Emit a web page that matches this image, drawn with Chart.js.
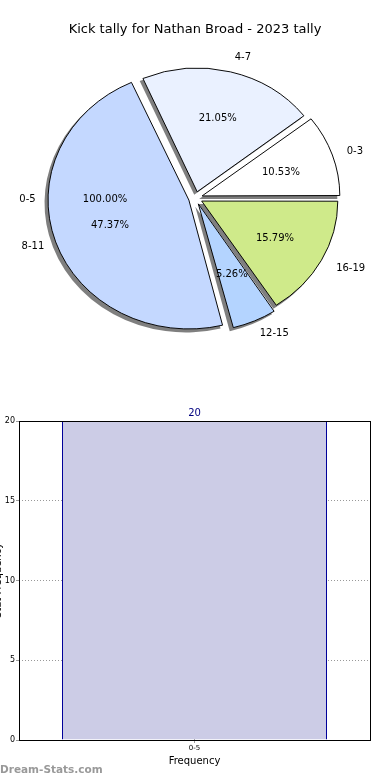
<!DOCTYPE html>
<html>
<head>
<meta charset="utf-8">
<script src="https://cdn.jsdelivr.net/npm/chart.js@4.4.0/dist/chart.umd.min.js"></script>
<style>
  html, body { margin: 0; padding: 0; background: #fff; }
  #wrap-pie { position: absolute; left: 0; top: 0; width: 390px; height: 400px; }
  #wrap-bar { position: absolute; left: 0; top: 400px; width: 390px; height: 380px; }
</style>
</head>
<body>
<div id="wrap-pie"><canvas id="kick-pie"></canvas></div>
<div id="wrap-bar"><canvas id="kick-bar"></canvas></div>
<script>
const titleText = "Kick tally for Nathan Broad - 2023 tally";
const tallyLabels = ["0-3", "4-7", "8-11", "12-15", "16-19"];
const tallyCounts = [2, 4, 9, 1, 3];
const tallyColors = ["#ffffff", "#eaf1ff", "#c4d8ff", "#b4d4ff", "#cfea8a"];
const freqLabels = ["0-5"];
const freqValues = [20];
const yTicks = [0, 5, 10, 15, 20];
const xTitle = "Frequency";
const yTitle = "Stat Frequency";

const fontName = "'DejaVu Sans', sans-serif";
const squash = 0.915; // pie is a bit flatter than round
const explode = 7;
const textRadius = 139;

// chart.js draws clockwise, the original goes counter-clockwise from the right
const pieLabels = [...tallyLabels].reverse();
const pieCounts = [...tallyCounts].reverse();
const pieColors = [...tallyColors].reverse();

const pieExtras = {
  id: "pieExtras",
  beforeDatasetsDraw(chart) {
    const { ctx, chartArea } = chart;
    const cy = (chartArea.top + chartArea.bottom) / 2;
    ctx.save();
    ctx.translate(0, cy);
    ctx.scale(1, squash);
    ctx.translate(0, -cy);

    // drop shadows under every wedge, like matplotlib's shadow=True
    ctx.save();
    ctx.translate(-3, 3 / squash);
    ctx.fillStyle = "rgba(0,0,0,0.5)";
    chart.getDatasetMeta(0).data.forEach((arc) => {
      const mid = (arc.startAngle + arc.endAngle) / 2;
      const span = arc.endAngle - arc.startAngle;
      const grow = explode * (1 - Math.sin(Math.min(Math.PI, span)));
      const ox = arc.x + Math.cos(mid) * explode;
      const oy = arc.y + Math.sin(mid) * explode;
      ctx.beginPath();
      ctx.moveTo(ox, oy);
      ctx.arc(ox, oy, arc.outerRadius + grow + 0.5, arc.startAngle, arc.endAngle);
      ctx.closePath();
      ctx.fill();
    });
    ctx.restore();
  },
  afterDatasetsDraw(chart) {
    chart.ctx.restore();
  },
  afterDraw(chart) {
    const ctx = chart.ctx;
    const meta = chart.getDatasetMeta(0);
    const total = pieCounts.reduce((a, b) => a + b, 0);
    const cx = meta.data[0].x;
    const cy = meta.data[0].y + 1;

    ctx.save();
    ctx.fillStyle = "#000";
    ctx.textBaseline = "middle";

    ctx.font = `13px ${fontName}`;
    ctx.textAlign = "center";
    ctx.fillText(titleText, 195, 30);

    ctx.font = `10px ${fontName}`;
    const place = (angle, k) => [
      cx + (explode + k * textRadius) * Math.cos(angle),
      cy + (explode + k * textRadius) * Math.sin(angle) * squash,
    ];

    meta.data.forEach((arc, i) => {
      const mid = (arc.startAngle + arc.endAngle) / 2;
      const [lx, ly] = place(mid, 1.1);
      ctx.textAlign = Math.cos(mid) > 0 ? "left" : "right";
      ctx.fillText(chart.data.labels[i], lx, ly);
      const [px, py] = place(mid, 0.6);
      ctx.textAlign = "center";
      ctx.fillText(((pieCounts[i] / total) * 100).toFixed(2) + "%", px, py);
    });

    // the frequency bins also show up in the pie, lying underneath at 100%
    const freqTotal = freqValues.reduce((a, b) => a + b, 0);
    freqLabels.forEach((label, i) => {
      const mid = Math.PI;
      const [lx, ly] = place(mid, 1.1);
      ctx.textAlign = "right";
      ctx.fillText(label, lx, ly);
      const [px, py] = place(mid, 0.6);
      ctx.textAlign = "center";
      ctx.fillText(((freqValues[i] / freqTotal) * 100).toFixed(2) + "%", px, py);
    });
    ctx.restore();
  },
};

new Chart(document.getElementById("kick-pie"), {
  type: "pie",
  data: {
    labels: pieLabels,
    datasets: [
      {
        data: pieCounts,
        backgroundColor: pieColors,
        borderColor: "#000",
        borderWidth: 1,
        offset: explode * 4,
        radius: 135,
      },
    ],
  },
  options: {
    animation: false,
    responsive: true,
    maintainAspectRatio: false,
    rotation: 90,
    layout: { padding: { left: 1, right: 0, top: 0, bottom: 4 } },
    plugins: {
      legend: { display: false },
      tooltip: { enabled: false },
    },
  },
  plugins: [pieExtras],
});

const barExtras = {
  id: "barExtras",
  afterDraw(chart) {
    const { ctx, chartArea } = chart;
    ctx.save();
    ctx.strokeStyle = "#000";
    ctx.lineWidth = 1;
    ctx.strokeRect(
      Math.round(chartArea.left) + 0.5,
      Math.round(chartArea.top) + 0.5,
      Math.round(chartArea.right - chartArea.left),
      Math.round(chartArea.bottom - chartArea.top)
    );

    const meta = chart.getDatasetMeta(0);
    ctx.fillStyle = "#000080";
    ctx.font = `10px ${fontName}`;
    ctx.textAlign = "center";
    ctx.textBaseline = "bottom";
    meta.data.forEach((bar, i) => {
      ctx.fillText(String(freqValues[i]), bar.x, bar.y - 3);
    });

    ctx.fillStyle = "#000";
    ctx.font = `10px ${fontName}`;
    ctx.translate(1, (chartArea.top + chartArea.bottom) / 2);
    ctx.rotate(-Math.PI / 2);
    ctx.textBaseline = "alphabetic";
    ctx.fillText(yTitle, 0, 0);
    ctx.restore();

    ctx.save();
    ctx.fillStyle = "#999";
    ctx.font = `bold 10.5px ${fontName}`;
    ctx.textAlign = "left";
    ctx.textBaseline = "middle";
    ctx.fillText("Dream-Stats.com", 0, 370);
    ctx.restore();
  },
};

new Chart(document.getElementById("kick-bar"), {
  type: "bar",
  data: {
    labels: freqLabels,
    datasets: [
      {
        data: freqValues,
        backgroundColor: "#ccccE6",
        borderColor: "#00009a",
        borderWidth: { left: 1, right: 1, top: 0, bottom: 0 },
        borderSkipped: false,
        barPercentage: 0.755,
        categoryPercentage: 1,
      },
    ],
  },
  options: {
    animation: false,
    responsive: true,
    maintainAspectRatio: false,
    layout: { padding: { top: 21, right: 20, bottom: 0, left: 0 } },
    plugins: {
      legend: { display: false },
      tooltip: { enabled: false },
    },
    scales: {
      x: {
        grid: { offset: false, color: "#999", tickLength: 3 },
        border: { display: false, dash: [1, 2] },
        ticks: { font: { size: 7, family: fontName }, color: "#000", padding: 1 },
        title: {
          display: true,
          text: xTitle,
          font: { size: 10, family: fontName },
          color: "#000",
          padding: { top: 1, bottom: 13 },
        },
        afterFit: (s) => {
          s.height = 40;
        },
      },
      y: {
        min: 0,
        max: 20,
        afterBuildTicks: (s) => {
          s.ticks = yTicks.map((v) => ({ value: v }));
        },
        grid: { color: "#999", tickLength: 3 },
        border: { display: false, dash: [1, 2] },
        ticks: { font: { size: 8, family: fontName }, color: "#000", padding: 1 },
        afterFit: (s) => {
          s.width = 19;
        },
      },
    },
  },
  plugins: [barExtras],
});
</script>
</body>
</html>
